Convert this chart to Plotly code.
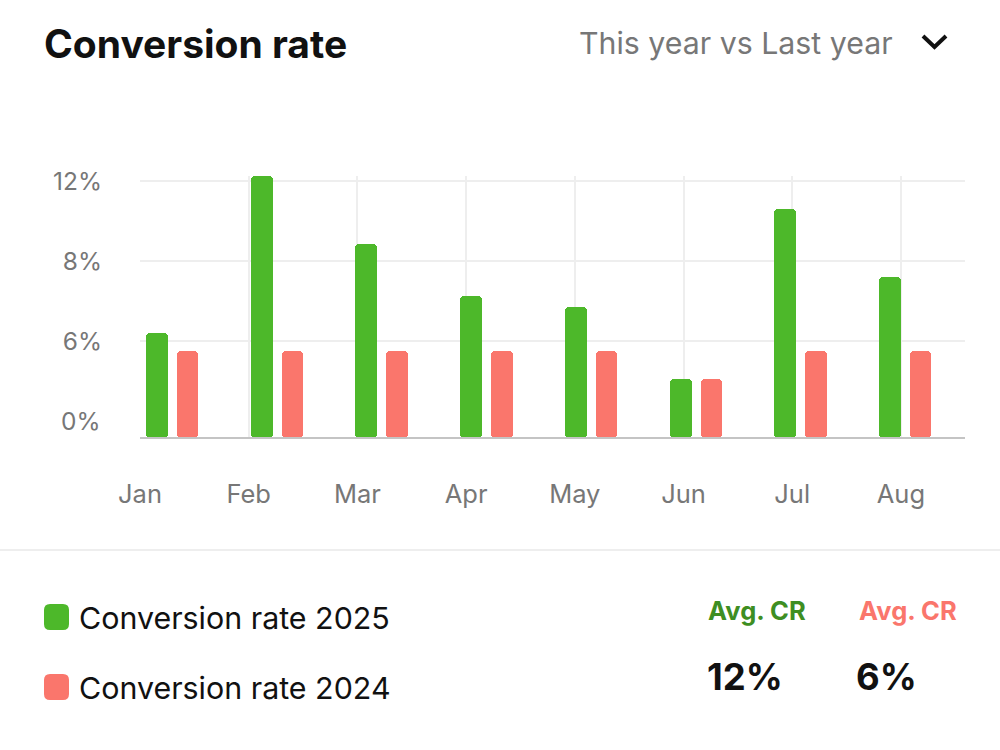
import plotly.graph_objects as go

# ---- data ----
months = ["Jan", "Feb", "Mar", "Apr", "May", "Jun", "Jul", "Aug"]
# bar heights in the chart's own axis units (tick labels below are the chart's labels)
cr_2025 = [4.4, 12.25, 8.85, 6.25, 5.7, 2.1, 10.6, 7.2]
cr_2024 = [3.5, 3.5, 3.5, 3.5, 3.5, 2.1, 3.5, 3.5]
y_tickvals = [0, 4, 8, 12]
y_ticktext = ["0%", "6%", "8%", "12%"]
series_names = ["Conversion rate 2025", "Conversion rate 2024"]
avg_values = ["12%", "6%"]

GREEN = "#4DB82A"
RED = "#FA766C"
FONT = "Inter"
Y_MIN = -0.85
Y_MAX = 12.25
X_MIN, X_MAX = -0.3056, 7.574
TICK_STEP = 1.0382  # month labels / gridlines are spaced slightly wider than the bar groups

W, H = 1000, 750
xpos = list(range(len(months)))
x_tickvals = [X_MIN + i * TICK_STEP for i in xpos]

fig = go.Figure()
fig.add_trace(go.Bar(
    x=xpos, y=[v - Y_MIN for v in cr_2025], base=Y_MIN,
    offset=-0.248, width=0.21, marker=dict(color=GREEN, cornerradius=4, line=dict(width=0)),
    name=series_names[0], showlegend=False, hoverinfo="skip"))
fig.add_trace(go.Bar(
    x=xpos, y=[v - Y_MIN for v in cr_2024], base=Y_MIN,
    offset=0.048, width=0.205, marker=dict(color=RED, cornerradius=4, line=dict(width=0)),
    name=series_names[1], showlegend=False, hoverinfo="skip"))


def px(x):
    return x / W


def py(y):
    return 1 - y / H


TICKFONT_Y = dict(size=24.5, color="#777777", family=FONT)

# the lowest label (0%) has no gridline in the reference: gridded ticks on the axis,
# the 0% label as an annotation on the same y scale
grid_ticks = [(v, t) for v, t in zip(y_tickvals, y_ticktext) if v != 0]
zero_ticks = [(v, t) for v, t in zip(y_tickvals, y_ticktext) if v == 0]

fig.update_layout(
    width=W, height=H, margin=dict(l=0, r=0, t=0, b=0, pad=0),
    paper_bgcolor="white", plot_bgcolor="white",
    barmode="overlay", bargap=0,
    font=dict(family=FONT),
    xaxis=dict(
        domain=[px(140), px(965)], range=[X_MIN, X_MAX], automargin=False,
        tickvals=x_tickvals, ticktext=months,
        showgrid=True, gridcolor="#EEEEEE", gridwidth=2,
        zeroline=False, showline=False, ticks="",
        tickfont=dict(size=25.5, color="#777777", family=FONT),
        ticklabelstandoff=38, fixedrange=True,
    ),
    yaxis=dict(
        domain=[py(438), py(176)], range=[Y_MIN, Y_MAX], automargin=False,
        tickvals=[v for v, _ in grid_ticks], ticktext=[t for _, t in grid_ticks],
        showgrid=True, gridcolor="#EEEEEE", gridwidth=2,
        zeroline=False, showline=False, ticks="",
        tickfont=TICKFONT_Y,
        ticklabelstandoff=37, fixedrange=True,
    ),
)

shapes = []
# baseline
shapes.append(dict(type="line", xref="paper", yref="paper", x0=px(140), x1=px(965),
                   y0=py(438), y1=py(438), line=dict(color="#C4C4C4", width=2)))
# divider
shapes.append(dict(type="line", xref="paper", yref="paper", x0=0, x1=1,
                   y0=py(550), y1=py(550), line=dict(color="#EEEEEE", width=2)))
# chevron
shapes.append(dict(type="path", xref="paper", yref="paper",
                   path=f"M {px(923)},{py(36)} L {px(934.5)},{py(47)} L {px(946)},{py(36)}",
                   line=dict(color="#111111", width=4)))


def rounded_rect(x0, y0, x1, y1, r):
    X = lambda v: px(v)
    Y = lambda v: py(v)
    return (f"M {X(x0 + r)},{Y(y0)} L {X(x1 - r)},{Y(y0)} Q {X(x1)},{Y(y0)} {X(x1)},{Y(y0 + r)} "
            f"L {X(x1)},{Y(y1 - r)} Q {X(x1)},{Y(y1)} {X(x1 - r)},{Y(y1)} "
            f"L {X(x0 + r)},{Y(y1)} Q {X(x0)},{Y(y1)} {X(x0)},{Y(y1 - r)} "
            f"L {X(x0)},{Y(y0 + r)} Q {X(x0)},{Y(y0)} {X(x0 + r)},{Y(y0)} Z")


legend_y = [617, 687]
for cy, col in zip(legend_y, [GREEN, RED]):
    shapes.append(dict(type="path", xref="paper", yref="paper",
                       path=rounded_rect(44, cy - 13, 69, cy + 13, 6),
                       fillcolor=col, line=dict(width=0)))
fig.update_layout(shapes=shapes)

ann = []
for v, t in zero_ticks:
    ann.append(dict(text=t, x=px(103), y=v, xref="paper", yref="y",
                    xanchor="right", yanchor="middle", showarrow=False, font=TICKFONT_Y))
ann.append(dict(text="<b>Conversion rate</b>", x=px(42), y=py(44), xref="paper", yref="paper",
                xanchor="left", yanchor="middle", showarrow=False,
                font=dict(size=39, color="#111111", family=FONT)))
ann.append(dict(text="This year vs Last year", x=px(895), y=py(43), xref="paper", yref="paper",
                xanchor="right", yanchor="middle", showarrow=False,
                font=dict(size=30.3, color="#777777", family=FONT)))
for cy, name in zip(legend_y, series_names):
    ann.append(dict(text=name, x=px(77), y=py(cy + 1), xref="paper", yref="paper",
                    xanchor="left", yanchor="middle", showarrow=False,
                    font=dict(size=30.4, color="#111111", family=FONT)))
for cx, col in zip([756.5, 907.5], ["#3E8E22", RED]):
    ann.append(dict(text="<b>Avg. CR</b>", x=px(cx), y=py(610), xref="paper", yref="paper",
                    xanchor="center", yanchor="middle", showarrow=False,
                    font=dict(size=25.5, color=col, family=FONT)))
for cx, val in zip([744.5, 886], avg_values):
    ann.append(dict(text=f"<b>{val}</b>", x=px(cx), y=py(677), xref="paper", yref="paper",
                    xanchor="center", yanchor="middle", showarrow=False,
                    font=dict(size=36.5, color="#111111", family=FONT)))
fig.update_layout(annotations=ann)

fig.write_html(
    "out.html",
    config={"displayModeBar": False},
    post_script="document.body.style.margin='0';document.body.style.overflow='hidden';",
)
